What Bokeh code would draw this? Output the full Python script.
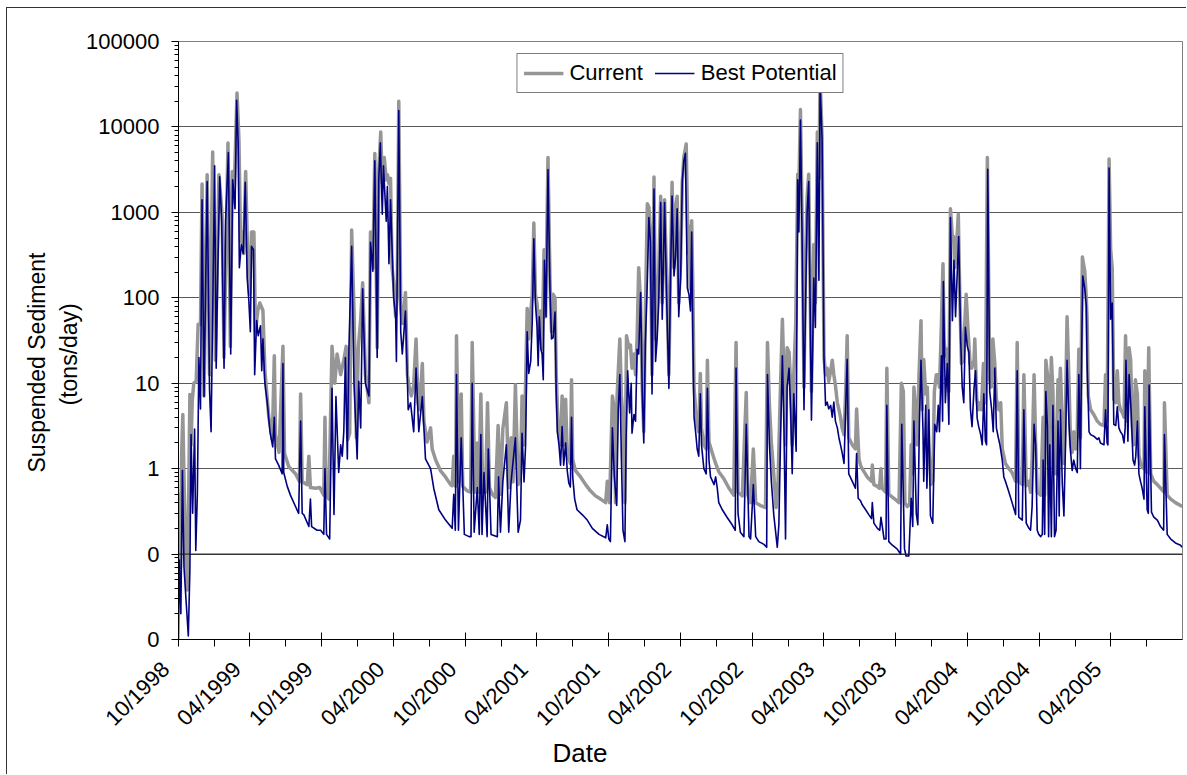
import pandas as pd
from math import pi
from bokeh.plotting import figure
from bokeh.models import (ColumnDataSource, FixedTicker, CustomJSTickFormatter,
                          Legend, LegendItem, Span, Range1d, Title)
from bokeh.embed import file_html
from bokeh.resources import INLINE

# ---------------- data (day offset from START_DATE, tons/day) ----------------
START_DATE = "1998-10-01"
END_DATE = "2005-10-01"

y_tick_values = [0.01, 0.1, 1, 10, 100, 1000, 10000, 100000]
x_major_dates = ["1998-10-01", "1999-04-01", "1999-10-01", "2000-04-01", "2000-10-01",
                 "2001-04-01", "2001-10-01", "2002-04-01", "2002-10-01", "2003-04-01",
                 "2003-10-01", "2004-04-01", "2004-10-01", "2005-04-01"]
x_minor_dates = ["1999-01-01", "1999-07-01", "2000-01-01", "2000-07-01", "2001-01-01",
                 "2001-07-01", "2002-01-01", "2002-07-01", "2003-01-01", "2003-07-01",
                 "2004-01-01", "2004-07-01", "2005-01-01", "2005-07-01"]

current_wy1999 = [(0,0.22),(2,0.5),(5,0.07),(8,1.5),(11,4.3),(14,0.8),(18,0.1),(22,0.038),(26,0.5),(29,7.4),(32,1.9),(35,6.3),(39,10),(45,10.5),(50,49),(56,49),(60,2150),(65,7.1),(73,2750),(79,12.6),(87,5100),(94,18.6),(103,2750),(111,950),(116,20),(126,6500),(132,27),(137,3000),(141,1300),(149,25000),(154,7000),(158,450),(162,590),(166,330),(171,3000),(177,205),(181,110),(186,590),(192,590),(196,40),(202,71),(207,87),(215,71),(220,14),(230,4),(239,2.2),(244,21),(247,2.5),(256,1.55),(266,27),(270,1.5),(281,1.05),(298,0.87),(308,0.71),(311,7.5),(315,0.7),(328,0.65),(332,1.4),(336,0.6),(349,0.59),(360,0.6)]
current_wy2000 = [(370,0.49),(373,4),(376,0.5),(383,0.44),(391,27),(398,10),(404,22),(413,12.6),(421,18.6),(427,27),(431,2.2),(436,2.6),(441,620),(447,71),(453,2.3),(458,26),(464,56),(469,150),(476,12.6),(485,5.9),(489,590),(495,225),(500,4900),(506,26),(510,3000),(515,8700),(519,2200),(524,4400),(529,2400),(532,2750),(536,2150),(540,2500),(544,225),(548,150),(553,60),(557,105),(561,20000),(566,75),(571,50),(578,115),(583,12.6),(588,8.7),(593,7.1),(599,9.5),(605,33),(610,5.9),(614,4.9),(621,17),(625,3.6),(633,2.05),(642,3),(646,1.7),(655,1.26),(667,0.95),(680,0.8),(693,0.65),(697,0.63),(701,1.4),(706,0.62),(708,36),(714,0.7),(720,7.5),(724,0.62)]
current_wy2001 = [(735,0.55),(744,0.53),(748,30),(755,0.53),(761,2.0),(765,0.53),(770,7.5),(775,0.53),(782,0.53),(787,5.9),(792,0.6),(799,0.5),(807,0.46),(814,3.2),(820,0.5),(826,2.9),(835,5.9),(841,0.6),(847,2.3),(852,0.7),(858,9.6),(865,0.65),(871,0.87),(875,7.1),(880,1.9),(884,10),(888,75),(892,33),(897,68),(901,110),(905,750),(909,110),(913,87),(918,40),(922,70),(926,25),(931,365),(935,60),(941,4400),(946,170),(950,40),(954,110),(959,100),(962,12.6),(967,2.7),(973,1.9),(977,7.1),(981,1.9),(986,6.5),(990,1.4),(994,1.3),(998,1.15),(1001,11),(1004,1.26),(1011,0.95),(1024,0.8),(1037,0.65),(1049,0.55),(1062,0.48),(1075,0.44),(1088,0.4),(1092,0.71)]
current_wy2002 = [(1098,0.4),(1105,7.1),(1110,4.9),(1113,0.4),(1117,7.1),(1124,33),(1128,7.1),(1132,4),(1137,0.4),(1141,36),(1147,26),(1151,28),(1155,15),(1160,22),(1164,12.6),(1168,33),(1172,225),(1177,87),(1181,9),(1185,2.7),(1189,64),(1194,1260),(1198,1150),(1202,520),(1206,12.6),(1211,2600),(1215,33),(1219,71),(1223,205),(1228,1540),(1232,87),(1238,1400),(1243,170),(1249,12.6),(1253,205),(1257,2250),(1262,225),(1266,1150),(1270,1540),(1274,87),(1279,275),(1283,2250),(1287,4400),(1293,6300),(1298,330),(1301,690),(1303,127),(1307,800),(1310,127),(1313,9),(1317,4.9),(1321,3.3),(1325,2.7),(1329,13),(1332,3.0),(1338,1.9),(1344,1.7),(1347,18.6),(1351,2.05),(1359,1.55),(1368,1.15),(1376,0.92),(1389,0.76),(1402,0.59),(1414,0.49),(1420,30),(1425,0.53),(1436,0.48),(1446,7.8),(1450,0.49),(1457,0.4)]
current_wy2003 = [(1464,1.7),(1470,0.4),(1482,0.37),(1495,0.35),(1500,30),(1505,5.5),(1510,2.0),(1516,0.87),(1522,0.35),(1527,0.71),(1532,5.9),(1538,56),(1542,12.6),(1546,1.9),(1550,26),(1555,23),(1559,10),(1563,1.9),(1567,12.6),(1572,50),(1577,2800),(1580,2150),(1584,16000),(1588,1000),(1593,9),(1597,225),(1601,1540),(1605,2800),(1612,8),(1618,420),(1622,87),(1627,8700),(1631,2500),(1634,40000),(1639,7500),(1644,20),(1648,12.6),(1652,15),(1656,10.5),(1661,14),(1665,18.6),(1669,12.6),(1673,9.5),(1678,5.9),(1682,4.9),(1686,4),(1690,3.0),(1695,2.5),(1699,7.5),(1703,36),(1707,2.3),(1716,1.9),(1724,1.7),(1727,5),(1733,1.3),(1737,1.1),(1741,1.0),(1754,0.8),(1765,0.71),(1767,1.1),(1771,0.65),(1780,0.62),(1785,0.59),(1789,1.0),(1792,0.59),(1801,0.53),(1804,15),(1809,0.5),(1822,0.45)]
current_wy2004 = [(1835,0.4),(1841,10),(1846,8),(1850,0.4),(1856,0.36),(1862,0.38),(1866,1.9),(1869,0.87),(1873,9),(1877,4.9),(1881,1.9),(1886,12.6),(1891,54),(1894,4.9),(1898,19),(1903,7.5),(1907,9),(1911,1.9),(1916,0.65),(1921,0.71),(1925,8),(1930,12.6),(1935,12.6),(1938,9),(1943,49),(1947,250),(1950,30),(1954,21),(1958,25),(1962,8),(1966,1100),(1971,520),(1974,520),(1977,225),(1981,365),(1986,950),(1990,95),(1994,17),(1998,18.6),(2003,56),(2006,110),(2011,40),(2016,17),(2020,15),(2026,18.6),(2028,33),(2033,6.5),(2037,4.9),(2041,5.9),(2045,4.9),(2050,17),(2055,5.9),(2060,4400),(2066,11),(2070,9),(2074,33),(2079,17),(2083,6.5),(2089,4.9),(2094,5.9),(2098,1.7),(2106,1.15),(2115,1.0),(2123,0.9),(2132,0.71),(2136,30),(2140,0.7),(2149,0.65),(2153,12.6),(2159,0.63),(2166,0.71),(2170,0.53),(2174,1.3),(2179,12.6),(2183,1.9),(2187,0.53)]
current_wy2005 = [(2196,0.49),(2202,4),(2206,0.49),(2209,18.6),(2213,12.6),(2217,1.15),(2223,20),(2227,8),(2229,1.15),(2234,0.87),(2240,11),(2242,4.9),(2246,15),(2251,3.0),(2255,1.15),(2259,4.9),(2263,60),(2268,10),(2272,1.9),(2276,1.55),(2280,2.7),(2285,1.7),(2289,2.7),(2293,25),(2297,2.3),(2302,300),(2308,205),(2312,100),(2314,56),(2317,7.1),(2323,4.9),(2331,4.3),(2340,3.6),(2348,3.3),(2357,3.2),(2361,12.6),(2365,3.6),(2370,4200),(2374,365),(2378,225),(2382,6.5),(2387,5.9),(2391,14),(2395,5.9),(2399,4.9),(2404,4.5),(2408,4.0),(2412,36),(2416,3.6),(2421,26),(2425,18.6),(2429,3.1),(2433,1.9),(2437,11),(2442,7.5),(2446,1.45),(2450,1.15),(2454,1.05),(2459,1.0),(2461,14),(2466,0.9),(2471,26),(2476,0.87),(2484,0.71),(2493,0.65),(2501,0.59),(2510,0.53),(2511,5.9),(2518,0.49),(2527,0.44),(2539,0.4),(2552,0.37),(2556,0.36)]

best_wy1999 = [(0,0.01),(2,0.085),(6,0.02),(10,0.95),(14,0.07),(19,0.03),(25,0.011),(29,0.065),(32,2.5),(36,0.3),(41,2.9),(44,0.11),(48,0.5),(52,20),(56,5),(60,1400),(65,7),(73,2300),(79,8.5),(83,2.7),(92,3500),(96,15),(100,205),(105,2600),(110,800),(116,15),(120,800),(127,5000),(133,22),(138,2400),(144,1100),(148,20500),(152,6500),(155,225),(160,420),(165,330),(170,2250),(175,170),(179,95),(183,40),(186,400),(191,365),(194,12.6),(199,54),(203,36),(209,47),(212,14),(215,33),(220,10),(226,6),(233,2.7),(240,1.8),(244,4.0),(247,1.3),(255,1.1),(264,0.87),(266,17),(268,0.9),(277,0.62),(285,0.49),(298,0.36),(306,0.3),(311,3.6),(315,0.3),(319,0.29),(332,0.21),(336,0.44),(339,0.21),(353,0.19),(362,0.19)]
best_wy2000 = [(370,0.17),(373,1.0),(377,0.17),(385,0.15),(391,8.7),(396,0.29),(401,7),(408,0.9),(413,1.9),(417,1.4),(421,2.7),(425,20),(430,1.3),(434,25),(441,400),(447,10),(455,1.3),(459,10.5),(464,3),(469,127),(476,10),(485,7.1),(489,445),(495,205),(500,4000),(506,20),(510,2400),(514,6500),(519,950),(522,3500),(529,790),(532,2000),(536,250),(540,1400),(548,100),(553,60),(555,18),(561,15500),(566,40),(570,22),(578,70),(585,4.9),(591,5.9),(599,2.7),(605,15),(612,2.7),(621,7),(629,1.3),(642,1.0),(650,0.59),(663,0.33),(680,0.25),(697,0.2),(701,0.5),(705,0.19),(708,12.6),(713,0.19),(720,2.3),(728,0.17)]
best_wy2001 = [(740,0.16),(745,0.16),(748,10),(753,0.18),(761,0.6),(766,0.17),(770,2.5),(773,0.17),(778,0.9),(786,0.16),(789,1.7),(796,0.17),(812,0.16),(815,0.8),(820,0.18),(826,0.7),(835,1.9),(841,0.18),(847,0.7),(858,2.3),(865,0.18),(871,0.25),(875,2.6),(880,0.7),(884,1.9),(888,40),(892,13),(897,18),(901,54),(905,490),(909,87),(913,47),(916,16),(919,60),(923,25),(926,22),(929,11),(932,275),(936,60),(941,3160),(946,130),(950,33),(954,34),(959,68),(962,7.5),(965,2.7),(969,1.9),(973,1.1),(977,3.1),(981,1.1),(986,2.0),(990,0.95),(994,0.68),(998,0.61),(1001,4),(1004,0.8),(1009,0.44),(1015,0.33),(1028,0.29),(1041,0.25),(1054,0.2),(1071,0.17),(1088,0.155),(1092,0.22)]
best_wy2002 = [(1096,0.15),(1100,0.14),(1105,3.0),(1110,0.8),(1116,0.37),(1120,4.9),(1124,12.6),(1128,1.3),(1132,0.19),(1137,0.14),(1140,2.3),(1144,14),(1149,4.5),(1153,10),(1155,2.6),(1160,4.3),(1164,3.6),(1168,25),(1172,22),(1177,115),(1181,8),(1185,2.0),(1189,30),(1194,155),(1198,870),(1202,450),(1206,7.5),(1211,1870),(1215,18),(1219,33),(1223,87),(1228,1300),(1232,56),(1238,1300),(1243,110),(1249,8.7),(1253,170),(1257,1550),(1262,180),(1266,300),(1270,1100),(1274,60),(1279,180),(1283,2300),(1287,4000),(1291,4900),(1296,130),(1300,110),(1304,70),(1307,590),(1310,33),(1313,4),(1317,2.7),(1321,1.7),(1325,1.4),(1329,7.5),(1332,1.9),(1338,1.0),(1344,0.87),(1347,8.7),(1351,1.26),(1355,0.8),(1364,0.65),(1368,0.8),(1372,0.6),(1376,0.4),(1385,0.33),(1397,0.27),(1410,0.22),(1418,0.19),(1420,15),(1425,0.3),(1431,0.18),(1440,0.16),(1446,3.3),(1453,0.16),(1457,0.15)]
best_wy2003 = [(1464,0.65),(1470,0.16),(1478,0.14),(1491,0.13),(1498,0.12),(1500,12.6),(1505,1.9),(1510,0.7),(1516,0.29),(1525,0.12),(1529,0.22),(1533,1.9),(1538,21),(1542,3.0),(1546,0.15),(1550,9),(1555,15),(1559,4.9),(1563,0.87),(1567,7.5),(1573,1.6),(1577,2400),(1580,590),(1584,12000),(1588,590),(1593,4.9),(1597,87),(1601,1000),(1605,2300),(1612,3.7),(1618,170),(1622,45),(1627,6500),(1631,160),(1634,32000),(1639,7500),(1644,19),(1648,5.5),(1652,6),(1656,5),(1661,5.5),(1665,4.0),(1669,6),(1673,3.6),(1678,3.0),(1682,2.3),(1686,1.9),(1690,1.55),(1695,1.15),(1699,4.9),(1703,19),(1707,0.87),(1716,0.71),(1724,0.59),(1727,1.5),(1731,0.45),(1737,0.42),(1741,0.38),(1750,0.33),(1758,0.29),(1765,0.26),(1767,0.4),(1771,0.23),(1780,0.2),(1786,0.19),(1789,0.27),(1797,0.15),(1802,0.15),(1804,5.5),(1809,0.14),(1818,0.127)]
best_wy2004 = [(1830,0.115),(1839,0.1),(1842,3.3),(1849,0.115),(1853,0.095),(1860,0.095),(1866,0.45),(1870,0.21),(1873,3.6),(1879,0.3),(1883,0.22),(1887,3.6),(1891,18.6),(1896,2.9),(1898,0.71),(1903,5.5),(1906,0.59),(1911,4.9),(1915,0.28),(1921,0.23),(1926,3.3),(1931,2.7),(1935,5.5),(1938,2.7),(1941,9.6),(1943,21),(1946,3.6),(1948,155),(1953,5.9),(1958,17),(1962,3.3),(1966,870),(1971,54),(1975,275),(1979,60),(1983,180),(1987,520),(1992,33),(1996,9),(2000,5.9),(2004,45),(2009,27),(2013,23),(2017,4.9),(2021,3.1),(2026,8.7),(2030,14),(2034,3.9),(2038,3.1),(2043,2.5),(2047,1.9),(2051,7.5),(2055,2.1),(2058,1.9),(2061,3200),(2066,8),(2071,4.9),(2075,2.7),(2079,15),(2083,3.0),(2088,2.3),(2092,1.9),(2098,1.26),(2102,0.8),(2106,0.71),(2115,0.53),(2123,0.4),(2132,0.29),(2136,14),(2140,0.27),(2149,0.25),(2153,4.9),(2159,0.23),(2166,0.2),(2170,0.19),(2174,0.36),(2179,3.3),(2183,1.9),(2187,0.19),(2191,0.17)]
best_wy2005 = [(2196,0.16),(2200,0.17),(2202,1.26),(2206,0.17),(2209,8),(2213,3.1),(2216,0.16),(2219,1.9),(2223,0.16),(2227,5.5),(2231,0.16),(2235,0.19),(2240,3.6),(2243,0.28),(2246,4.9),(2251,0.65),(2255,0.28),(2259,1.9),(2263,18.6),(2268,3.3),(2272,1.55),(2276,0.95),(2280,1.26),(2285,1.0),(2289,0.9),(2293,12.6),(2297,1.0),(2300,20),(2303,180),(2308,130),(2312,80),(2314,17),(2319,2.7),(2323,2.5),(2331,2.4),(2340,2.2),(2344,2.3),(2348,2.0),(2357,1.9),(2361,4.9),(2365,2.0),(2367,1.9),(2370,3300),(2374,56),(2378,87),(2382,3.3),(2387,3.2),(2391,5.3),(2395,3.0),(2399,2.7),(2404,2.5),(2408,2.0),(2411,3.0),(2413,18.6),(2418,2.1),(2421,12.6),(2426,4.9),(2431,1.26),(2435,1.1),(2438,1.4),(2442,3.6),(2446,0.87),(2450,0.71),(2454,0.6),(2459,0.44),(2461,5.3),(2467,0.33),(2470,0.3),(2472,9.5),(2478,0.31),(2484,0.27),(2493,0.25),(2501,0.21),(2509,0.19),(2511,2.5),(2518,0.17),(2527,0.15),(2539,0.135),(2552,0.127),(2556,0.12)]

# ---------------- build ----------------
start = pd.Timestamp(START_DATE)


def make_source(*groups):
    pairs = [pt for g in groups for pt in g]
    return ColumnDataSource(dict(
        date=[start + pd.Timedelta(days=d) for d, _ in pairs],
        tons=[v for _, v in pairs],
    ))


src_current = make_source(current_wy1999, current_wy2000, current_wy2001, current_wy2002,
                          current_wy2003, current_wy2004, current_wy2005)
src_best = make_source(best_wy1999, best_wy2000, best_wy2001, best_wy2002,
                       best_wy2003, best_wy2004, best_wy2005)


def ms(s):
    return pd.Timestamp(s).value / 1e6


FONT = "Liberation Sans"

p = figure(width=1180, height=767, x_axis_type="datetime", y_axis_type="log",
           x_range=Range1d(ms(START_DATE), ms(END_DATE)),
           y_range=Range1d(y_tick_values[0], y_tick_values[-1]),
           output_backend="svg", toolbar_location=None,
           min_border_left=171, min_border_right=5, min_border_top=33,
           min_border_bottom=136,
           background_fill_color="white", border_fill_color="white")
p.styles = {"margin-left": "6px", "margin-top": "7px",
            "border-left": "1px solid #333333", "border-top": "1px solid #333333"}
p.outline_line_color = "#808080"

r_cur = p.line(x="date", y="tons", source=src_current, line_color="#969696",
               line_width=3.5, line_join="round")
r_best = p.line(x="date", y="tons", source=src_best, line_color="#000080",
                line_width=1.6, line_join="round")

# y axis
y_minor = [m * 10.0 ** k for k in range(-2, 5) for m in range(2, 10)]
yt = FixedTicker(ticks=y_tick_values, minor_ticks=y_minor)
p.yaxis.ticker = yt
p.ygrid.ticker = yt
p.yaxis.formatter = CustomJSTickFormatter(code="return tick < 1 ? '0' : tick.toFixed(0);")
p.yaxis.major_tick_out = 7
p.yaxis.major_tick_in = 0
p.yaxis.minor_tick_out = 4
p.yaxis.minor_tick_in = 0
p.yaxis.major_label_standoff = 12
p.yaxis.major_label_text_font = FONT
p.yaxis.major_label_text_font_size = "22px"
p.yaxis.major_label_text_color = "black"
p.yaxis.axis_line_color = "black"

# y-axis title: two lines, placed as side titles (nearest line first)
p.add_layout(Title(text="(tons/day)", align="left", offset=234, standoff=4,
                   text_font=FONT, text_font_size="23px",
                   text_font_style="normal", text_color="black"), "left")
p.add_layout(Title(text="Suspended Sediment", align="left", offset=167, standoff=4,
                   text_font=FONT, text_font_size="23px",
                   text_font_style="normal", text_color="black"), "left")

p.ygrid.grid_line_color = "#595959"
p.ygrid.grid_line_width = 1
p.xgrid.grid_line_color = None
p.add_layout(Span(location=0.1, dimension="width", line_color="#1a1a1a", line_width=1))

# x axis
p.xaxis.ticker = FixedTicker(ticks=[ms(s) for s in x_major_dates],
                             minor_ticks=[ms(s) for s in x_minor_dates])
p.xaxis.formatter = CustomJSTickFormatter(code="""
    const d = new Date(tick);
    const m = d.getUTCMonth() + 1;
    return (m < 10 ? '0' + m : '' + m) + '/' + d.getUTCFullYear() + '\\u00a0\\u00a0\\u00a0';
""")
p.xaxis.major_label_orientation = pi / 4
p.xaxis.major_tick_in = 7
p.xaxis.major_tick_out = 7
p.xaxis.minor_tick_in = 0
p.xaxis.minor_tick_out = 7
p.xaxis.major_label_standoff = 6
p.xaxis.major_label_text_font = FONT
p.xaxis.major_label_text_font_size = "22px"
p.xaxis.major_label_text_color = "black"
p.xaxis.axis_line_color = "black"

p.add_layout(Title(text="Date", align="left", offset=374, standoff=-10,
                   vertical_align="top",
                   text_font=FONT, text_font_size="26px",
                   text_font_style="normal", text_color="black"), "below")

legend = Legend(items=[LegendItem(label="Current", renderers=[r_cur]),
                       LegendItem(label="Best Potential", renderers=[r_best])],
                location="top_center", orientation="horizontal", margin=12,
                padding=6, spacing=12, glyph_width=40, glyph_height=22,
                label_height=22, label_standoff=6,
                label_text_font=FONT, label_text_font_size="22px",
                label_text_color="black",
                border_line_color="black", border_line_width=1,
                background_fill_color="white", background_fill_alpha=1.0)
p.add_layout(legend)

open("out.html", "w").write(file_html(p, INLINE))
